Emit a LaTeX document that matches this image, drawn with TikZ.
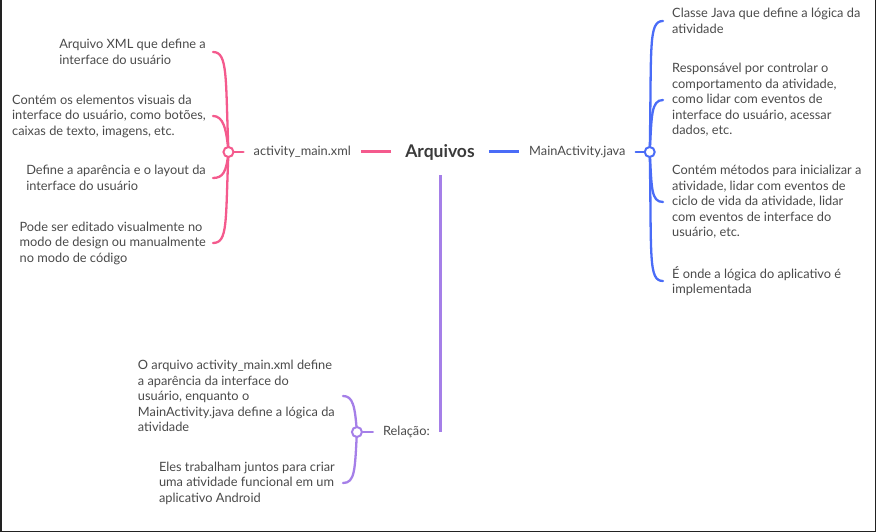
\documentclass[tikz,border=0pt]{standalone}
\usepackage{fontspec}
\setmainfont{Lato}
\usetikzlibrary{positioning,backgrounds}
\definecolor{mmpink}{HTML}{F45A8D}
\definecolor{mmblue}{HTML}{4A6CF7}
\definecolor{mmpurple}{HTML}{A57FE8}
\definecolor{txtgrey}{HTML}{4A4A4A}
\definecolor{rootgrey}{HTML}{3A3A3A}
\definecolor{framegrey}{HTML}{222222}

\begin{document}
\begin{tikzpicture}[
  x=1pt, y=-1pt,
  font=\fontsize{12.8}{15.5}\selectfont,
  root/.style={font=\fontsize{17.5}{20}\selectfont\bfseries, text=rootgrey,
               inner xsep=14pt, minimum height=46pt},
  branch/.style={text=txtgrey, inner xsep=10pt, inner ysep=2pt},
  leaf/.style={text=txtgrey, align=left, inner xsep=7pt, inner ysep=0pt},
  hub/.style={circle, draw=#1, line width=2pt, fill=white,
              minimum size=10pt, inner sep=0pt},
  trunk/.style={#1, line width=3pt},
  twig/.style={#1, line width=2.3pt, line cap=round},
]
\useasboundingbox (0,0) rectangle (876,532);

% ---------------- window frame --------------------------------------
\draw[framegrey, line width=3pt] (0,0) -- (0,532) -- (876,532) -- (876,0);

% ---------------- centre and main branches --------------------------
\node[root] (root) at (440,152) {Arquivos};
\node[branch, anchor=east] (xml)  at (361,152) {activity\_main.xml};
\node[branch, anchor=west] (java) at (519,152) {MainActivity.java};
\node[branch, anchor=east] (rel)  at (440,432) {Relação:};

\node[hub=mmpink,   left=0pt of xml.west, xshift=-9pt]  (xdot) {};
\node[hub=mmblue,   right=0pt of java.east, xshift=8pt] (jdot) {};
\node[hub=mmpurple, left=0pt of rel.west, xshift=-10pt] (rdot) {};

\draw[trunk=mmpink]   (root.west)  -- (xml.east);
\draw[trunk=mmblue]   (root.east)  -- (java.west);
\draw[trunk=mmpurple] (root.south) -- (rel.east);

\draw[twig=mmpink]   (xdot.east) -- (xml.west);
\draw[twig=mmblue]   (java.east) -- (jdot.west);
\draw[twig=mmpurple] (rdot.east) -- (rel.west);

% ---------------- activity_main.xml ---------------------------------
\node[leaf, anchor=east] (xa) at (213,52)
  {Arquivo XML que define a\\interface do usuário};
\node[leaf, anchor=east] (xb) at (213,116)
  {Contém os elementos visuais da\\interface do usuário, como botões,\\caixas de texto, imagens, etc.};
\node[leaf, anchor=east] (xc) at (213,178)
  {Define a aparência e o layout da\\interface do usuário};
\node[leaf, anchor=east] (xd) at (213,243)
  {Pode ser editado visualmente no\\modo de design ou manualmente\\no modo de código};

% ---------------- MainActivity.java ---------------------------------
\node[leaf, anchor=west, inner xsep=9pt] (ja) at (663,21)
  {Classe Java que define a lógica da\\atividade};
\node[leaf, anchor=west, inner xsep=9pt] (jb) at (663,100)
  {Responsável por controlar o\\comportamento da atividade,\\como lidar com eventos de\\interface do usuário, acessar\\dados, etc.};
\node[leaf, anchor=west, inner xsep=9pt] (jc) at (663,202)
  {Contém métodos para inicializar a\\atividade, lidar com eventos de\\ciclo de vida da atividade, lidar\\com eventos de interface do\\usuário, etc.};
\node[leaf, anchor=west, inner xsep=9pt] (jd) at (663,281)
  {É onde a lógica do aplicativo é\\implementada};

% ---------------- Relação -------------------------------------------
\node[leaf, anchor=east, inner xsep=8pt] (ra) at (343,396)
  {O arquivo activity\_main.xml define\\a aparência da interface do\\usuário, enquanto o\\MainActivity.java define a lógica da\\atividade};
\node[leaf, anchor=east, inner xsep=8pt] (rb) at (343,483)
  {Eles trabalham juntos para criar\\uma atividade funcional em um\\aplicativo Android};

% curly connectors sit behind the hubs
\begin{scope}[on background layer]
  \draw[twig=mmpink] (xdot.center) .. controls +(-3,-75) and +(15,0) .. (xa.east);
  \draw[twig=mmpink] (xdot.center) .. controls +(-2,-24) and +(10,0) .. (xb.east);
  \draw[twig=mmpink] (xdot.center) .. controls +(-2,20) and +(10,0) .. (xc.east);
  \draw[twig=mmpink] (xdot.center) .. controls +(-3,70) and +(15,0) .. (xd.east);

  \draw[twig=mmblue] (jdot.center) .. controls +(2,-105) and +(-15,0) .. (ja.west);
  \draw[twig=mmblue] (jdot.center) .. controls +(2,-36) and +(-12,0) .. (jb.west);
  \draw[twig=mmblue] (jdot.center) .. controls +(2,36) and +(-12,0) .. (jc.west);
  \draw[twig=mmblue] (jdot.center) .. controls +(2,105) and +(-15,0) .. (jd.west);

  \draw[twig=mmpurple] (rdot.center) .. controls +(-2,-26) and +(10,0) .. (ra.east);
  \draw[twig=mmpurple] (rdot.center) .. controls +(-2,38) and +(12,0) .. (rb.east);
\end{scope}

\end{tikzpicture}
\end{document}
